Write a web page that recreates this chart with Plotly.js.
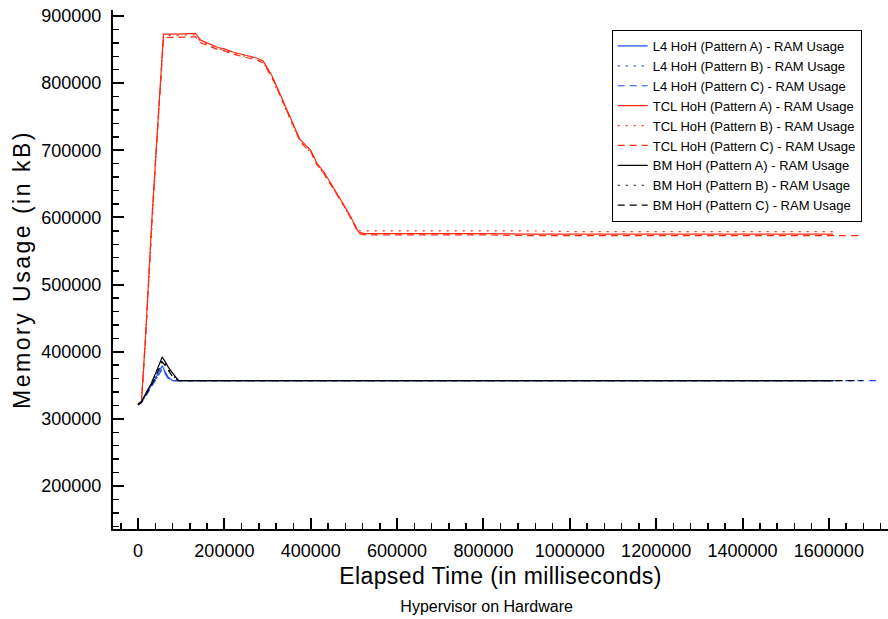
<!DOCTYPE html>
<html>
<head>
<meta charset="utf-8">
<script src="https://cdn.plot.ly/plotly-3.0.1.min.js"></script>
<style>
html,body{margin:0;padding:0;background:#fff;}
#chart{width:888px;height:619px;}
#chart .ytitle{letter-spacing:2.5px;}
#chart .xtitle{letter-spacing:0.4px;}
</style>
</head>
<body>
<div id="chart"></div>
<script>
// ---- Data ----
const tclTimeAB = [0, 8000, 17000, 24000, 32000, 40000, 48000, 54000, 59000, 90000,
  133000, 145000, 168000, 185000, 200000, 221000, 240000, 258000, 276000, 290000,
  299000, 310000, 322000, 334000, 345000, 360000, 375000, 388000, 400000, 414000,
  430000, 451000, 465000, 478000, 490000, 500000, 511000, 525000, 600000, 700000,
  800000, 900000, 1000000, 1100000, 1200000, 1300000, 1400000, 1500000, 1610000];
const tclTimeC = [0, 8000, 17000, 24000, 32000, 40000, 48000, 54000, 59000, 90000,
  133000, 145000, 168000, 185000, 200000, 221000, 240000, 258000, 276000, 290000,
  299000, 310000, 322000, 334000, 345000, 360000, 375000, 388000, 400000, 414000,
  430000, 451000, 465000, 478000, 490000, 500000, 511000, 525000, 600000, 700000,
  800000, 900000, 1000000, 1100000, 1200000, 1300000, 1400000, 1500000, 1610000, 1668000];

const tclA = [322000, 326000, 418000, 505000, 596000, 680000, 765000, 826000, 873000, 873000,
  874000, 864000, 857000, 853000, 851000, 846000, 843000, 840000, 837000, 833000,
  824000, 811000, 794000, 777000, 760000, 738000, 716000, 707000, 700000, 681000,
  668000, 646000, 632000, 617000, 604000, 591000, 578000, 576000, 576000, 577000,
  576000, 575000, 575000, 575000, 575000, 575000, 575000, 575000, 575000];
const tclB = [322000, 327000, 415000, 500000, 590000, 675000, 760000, 822000, 871000, 871000,
  872000, 862000, 855000, 851000, 849000, 845000, 841000, 839000, 835000, 830000,
  822000, 808000, 791000, 774000, 757000, 735000, 713000, 705000, 697000, 679000,
  665000, 644000, 630000, 615000, 602000, 590000, 580000, 580000, 580000, 581000,
  580000, 580000, 579000, 579000, 579000, 579000, 579000, 579000, 579000];
const tclC = [322000, 326000, 416000, 502000, 593000, 677000, 762000, 822000, 868000, 868000,
  869000, 860000, 854000, 850000, 848000, 843000, 840000, 837000, 834000, 830000,
  821000, 809000, 792000, 775000, 758000, 736000, 714000, 704000, 698000, 679000,
  666000, 645000, 630000, 616000, 602000, 589000, 576000, 574000, 574000, 575000,
  574000, 573000, 573000, 573000, 573000, 573000, 573000, 573000, 573000, 573000];

const smallTimeAB = [0, 8000, 18000, 30000, 42000, 50000, 56000, 62000, 70000, 80000, 94000,
  200000, 400000, 600000, 800000, 1000000, 1200000, 1400000, 1610000];
const bmTimeC = [0, 8000, 18000, 30000, 42000, 50000, 56000, 62000, 70000, 80000, 94000,
  200000, 400000, 600000, 800000, 1000000, 1200000, 1400000, 1610000, 1677000];
const l4TimeC = [0, 8000, 18000, 30000, 42000, 50000, 56000, 62000, 70000, 80000, 94000,
  200000, 400000, 600000, 800000, 1000000, 1200000, 1400000, 1610000, 1710000];

const bmA = [321000, 326000, 338000, 352000, 370000, 382000, 392000, 386000, 377000, 368000, 357000,
  357000, 357000, 357000, 357000, 357000, 357000, 357000, 357000];
const bmB = [321000, 325000, 337000, 350000, 367000, 379000, 388000, 383000, 374000, 365000, 357000,
  357000, 357000, 357000, 357000, 357000, 357000, 357000, 357000];
const bmC = [321000, 325000, 336000, 349000, 365000, 376000, 385000, 380000, 372000, 363000, 357000,
  357000, 357000, 357000, 357000, 357000, 357000, 357000, 357000, 357000];
const l4A = [321000, 325000, 336000, 348000, 362000, 372000, 379000, 371000, 362000, 357000, 357000,
  357000, 357000, 357000, 357000, 357000, 357000, 357000, 357000];
const l4B = [321000, 325000, 335000, 347000, 360000, 369000, 376000, 369000, 361000, 357000, 357000,
  357000, 357000, 357000, 357000, 357000, 357000, 357000, 357000];
const l4C = [321000, 324000, 334000, 346000, 358000, 367000, 374000, 368000, 360000, 357000, 357000,
  357000, 357000, 357000, 357000, 357000, 357000, 357000, 357000, 357000];

const seriesNames = [
  'L4 HoH (Pattern A) - RAM Usage', 'L4 HoH (Pattern B) - RAM Usage', 'L4 HoH (Pattern C) - RAM Usage',
  'TCL HoH (Pattern A) - RAM Usage', 'TCL HoH (Pattern B) - RAM Usage', 'TCL HoH (Pattern C) - RAM Usage',
  'BM HoH (Pattern A) - RAM Usage', 'BM HoH (Pattern B) - RAM Usage', 'BM HoH (Pattern C) - RAM Usage'
];

// ---- Styling ----
const BLUE = '#1f4cff', RED = '#ff2a10', BLACK = '#000000';
const FONT = 'Liberation Sans, Arial, Helvetica, sans-serif';
const DASH = {A: 'solid', B: '2px,6px', C: '7px,5px'};

function tr(x, y, name, color, dash) {
  return {x: x, y: y, name: name, type: 'scatter', mode: 'lines',
    line: {color: color, width: 1.2, dash: dash}};
}

const data = [
  tr(smallTimeAB, l4A, seriesNames[0], BLUE, DASH.A),
  tr(smallTimeAB, l4B, seriesNames[1], BLUE, DASH.B),
  tr(l4TimeC, l4C, seriesNames[2], BLUE, DASH.C),
  tr(tclTimeAB, tclA, seriesNames[3], RED, DASH.A),
  tr(tclTimeAB, tclB, seriesNames[4], RED, DASH.B),
  tr(tclTimeC, tclC, seriesNames[5], RED, DASH.C),
  tr(smallTimeAB, bmA, seriesNames[6], BLACK, DASH.A),
  tr(smallTimeAB, bmB, seriesNames[7], BLACK, DASH.B),
  tr(bmTimeC, bmC, seriesNames[8], BLACK, DASH.C)
];

const layout = {
  width: 888, height: 619,
  margin: {l: 113, r: 0, t: 10, b: 90, pad: 0},
  paper_bgcolor: '#fff', plot_bgcolor: '#fff',
  font: {family: FONT, color: '#000'},
  showlegend: true,
  title: {text: 'Hypervisor on Hardware', font: {family: FONT, size: 16, color: '#000'},
    xref: 'container', yref: 'container', x: 0.548, y: 0.021, xanchor: 'center', yanchor: 'middle'},
  xaxis: {
    range: [-58000, 1737000], autorange: false,
    tick0: 0, dtick: 200000, tickformat: 'd',
    showgrid: false, zeroline: false,
    showline: true, linecolor: '#000', linewidth: 2,
    ticks: 'inside', ticklen: 11, tickwidth: 2, tickcolor: '#000',
    minor: {dtick: 40000, ticks: 'inside', ticklen: 6, tickwidth: 1.5, tickcolor: '#000', showgrid: false},
    tickfont: {family: FONT, size: 18, color: '#000'},
    ticklabelstandoff: 4,
    title: {text: 'Elapsed Time (in milliseconds)', font: {family: FONT, size: 23, color: '#000'}, standoff: 8},
    automargin: false
  },
  yaxis: {
    range: [136000, 908900], autorange: false,
    tick0: 0, dtick: 100000, tickformat: 'd',
    showgrid: false, zeroline: false,
    showline: true, linecolor: '#000', linewidth: 2,
    ticks: 'inside', ticklen: 11, tickwidth: 2, tickcolor: '#000',
    minor: {dtick: 20000, ticks: 'inside', ticklen: 6, tickwidth: 1.5, tickcolor: '#000', showgrid: false},
    tickfont: {family: FONT, size: 18, color: '#000'},
    ticklabelstandoff: 6,
    title: {text: 'Memory Usage (in kB)', font: {family: FONT, size: 23, color: '#000'}, standoff: 4},
    automargin: false
  },
  legend: {
    x: 0.6435, y: 0.9615, xanchor: 'left', yanchor: 'top',
    bgcolor: '#fff', bordercolor: '#000', borderwidth: 1,
    font: {family: FONT, size: 13, color: '#000'},
    tracegroupgap: 0
  }
};

Plotly.newPlot('chart', data, layout, {staticPlot: true, displayModeBar: false});
</script>
</body>
</html>
